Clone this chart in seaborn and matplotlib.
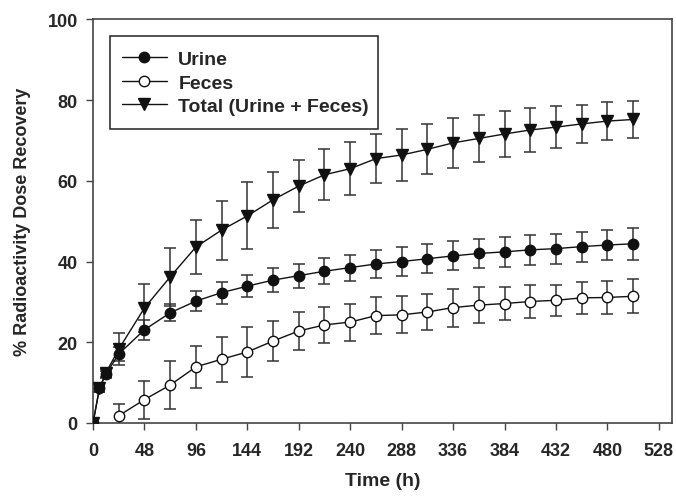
import matplotlib
matplotlib.use("Agg")
import matplotlib.pyplot as plt
from matplotlib.patches import Rectangle
import seaborn as sns
import pandas as pd
from matplotlib import font_manager

sns.set_theme(style="white")

# pick a condensed bold face for tick labels if available
_names = {f.name for f in font_manager.fontManager.ttflist}
NARROW = "Liberation Sans Narrow" if "Liberation Sans Narrow" in _names else "Liberation Sans"
plt.rcParams["font.family"] = ["Liberation Sans", "DejaVu Sans"]

# Sampling times (h)
time_urine = [0, 6, 12, 24, 48, 72, 96, 120, 144, 168, 192, 216, 240, 264,
              288, 312, 336, 360, 384, 408, 432, 456, 480, 504]
time_feces = [24, 48, 72, 96, 120, 144, 168, 192, 216, 240, 264,
              288, 312, 336, 360, 384, 408, 432, 456, 480, 504]

# Cumulative recovery (% of dose), mean and SD
urine_mean = [0, 8.6, 12.1, 17.1, 23.1, 27.3, 30.2, 32.3, 33.9, 35.4, 36.5, 37.6,
              38.5, 39.4, 40.0, 40.7, 41.4, 42.0, 42.4, 42.9, 43.2, 43.7, 44.1, 44.4]
urine_sd = [0, 0.8, 0.9, 1.7, 2.5, 2.1, 2.5, 2.7, 2.8, 2.9, 3.0, 3.2,
            3.2, 3.5, 3.5, 3.6, 3.6, 3.7, 3.7, 3.8, 3.7, 3.7, 3.7, 3.9]

feces_mean = [1.8, 5.8, 9.4, 13.9, 15.8, 17.6, 20.3, 22.8, 24.3, 25.0, 26.6,
              26.8, 27.5, 28.6, 29.2, 29.6, 30.1, 30.4, 31.0, 31.1, 31.4]
feces_sd = [2.9, 4.7, 5.9, 5.2, 5.6, 6.2, 4.9, 4.7, 4.5, 4.6, 4.5,
            4.6, 4.4, 4.7, 4.4, 4.1, 4.2, 3.9, 4.0, 4.0, 4.2]

total_mean = [0, 8.6, 12.4, 18.3, 28.5, 36.2, 43.6, 47.8, 51.3, 55.3, 58.7, 61.5,
              63.0, 65.5, 66.4, 67.8, 69.4, 70.5, 71.6, 72.6, 73.3, 74.1, 74.8, 75.2]
total_sd = [0, 0.8, 0.9, 3.9, 6.0, 7.1, 6.8, 7.3, 8.3, 7.0, 6.5, 6.3,
            6.6, 6.1, 6.4, 6.2, 6.1, 5.8, 5.7, 5.5, 5.2, 4.8, 4.7, 4.7]

labels = ["Urine", "Feces", "Total (Urine + Feces)"]

df = pd.concat([
    pd.DataFrame({"Time": time_urine, "Recovery": urine_mean, "SD": urine_sd, "Matrix": labels[0]}),
    pd.DataFrame({"Time": time_feces, "Recovery": feces_mean, "SD": feces_sd, "Matrix": labels[1]}),
    pd.DataFrame({"Time": time_urine, "Recovery": total_mean, "SD": total_sd, "Matrix": labels[2]}),
], ignore_index=True)

fig = plt.figure(figsize=(6.76, 5.02), dpi=100)
ax = fig.add_axes([0.1376, 0.1554, 0.856, 0.804])

styles = {
    labels[0]: dict(marker="o", mfc="#111111", ms=7.5),
    labels[1]: dict(marker="o", mfc="white", ms=7.5),
    labels[2]: dict(marker="v", mfc="#111111", ms=8.5),
}

# error bars first, behind the markers
for name in labels:
    sub = df[df["Matrix"] == name]
    ax.errorbar(sub["Time"], sub["Recovery"], yerr=sub["SD"], fmt="none",
                ecolor="#333333", elinewidth=1.1, capsize=4.6, capthick=1.1, zorder=2)

handles = []
for name in labels:
    sub = df[df["Matrix"] == name]
    st = styles[name]
    sns.lineplot(data=sub, x="Time", y="Recovery", ax=ax, color="#111111",
                 linewidth=1.0, marker=st["marker"], markersize=st["ms"],
                 markerfacecolor=st["mfc"], markeredgecolor="#111111",
                 markeredgewidth=1.0, errorbar=None, legend=False, zorder=3)
    handles.append(plt.Line2D([], [], color="#111111", lw=1.0, marker=st["marker"],
                              ms=st["ms"], mfc=st["mfc"], mec="#111111", mew=1.0))

ax.set_xlim(0, 540)
ax.set_ylim(0, 100)
ax.set_xticks(range(0, 529, 48))
ax.set_yticks(range(0, 101, 20))

for lab in ax.get_xticklabels() + ax.get_yticklabels():
    lab.set_fontfamily([NARROW, "DejaVu Sans"])
    lab.set_fontweight("bold")
    lab.set_fontsize(13)

ax.tick_params(axis="both", direction="out", length=5, width=1, color="#444444",
               bottom=True, left=True, top=False, right=False, pad=6)
ax.tick_params(axis="x", pad=9)

for sp in ax.spines.values():
    sp.set_color("#444444")
    sp.set_linewidth(1.2)

ax.set_xlabel("Time (h)", fontsize=14, fontweight="bold", labelpad=9,
              fontfamily=[NARROW, "DejaVu Sans"])
ax.set_ylabel("% Radioactivity Dose Recovery", fontsize=13, fontweight="bold", labelpad=12)

# legend entries, with a plain rectangular box drawn around them
leg = ax.legend(handles, labels, loc="center left", bbox_to_anchor=(0.050, 0.8426),
                frameon=False, borderpad=0, handlelength=2.3,
                handletextpad=0.6, labelspacing=0.3, borderaxespad=0,
                prop={"weight": "bold", "size": 14})
ax.add_patch(Rectangle((0.0294, 0.7286), 0.4631, 0.2304, transform=ax.transAxes,
                       fill=True, facecolor="white", edgecolor="#222222",
                       linewidth=1.1, zorder=4))
leg.set_zorder(5)

fig.savefig("out.png", dpi=100)
